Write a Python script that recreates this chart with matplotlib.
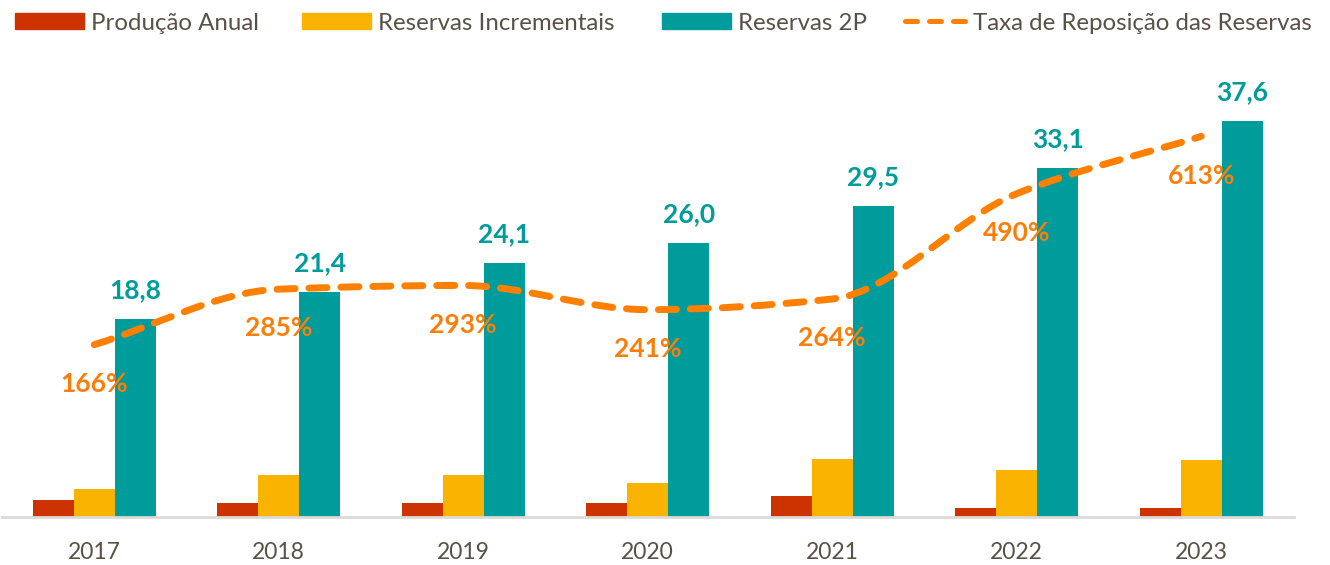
import numpy as np
import matplotlib
matplotlib.use("Agg")
import matplotlib.pyplot as plt
from matplotlib.path import Path
from matplotlib.patches import PathPatch, Patch
from matplotlib.lines import Line2D

plt.rcParams['font.family'] = ['Lato', 'DejaVu Sans']

anos = ['2017', '2018', '2019', '2020', '2021', '2022', '2023']
producao_anual = [1.59, 1.37, 1.33, 1.33, 2.02, 0.85, 0.85]
reservas_incrementais = [2.70, 4.00, 4.00, 3.23, 5.48, 4.46, 5.40]
reservas_2p = [18.8, 21.4, 24.1, 26.0, 29.5, 33.1, 37.6]
taxa_reposicao = [166, 285, 293, 241, 264, 490, 613]

VERMELHO = '#CC3300'
AMARELO = '#FAB300'
VERDE = '#009B9B'
LARANJA = '#FF8000'
TEXTO = '#595146'


def curva_suave(xs, ys):
    # Bezier pelos pontos, com tangentes monotonas (sem overshoot)
    xs = np.asarray(xs, float)
    ys = np.asarray(ys, float)
    n = len(xs)
    d = np.diff(ys) / np.diff(xs)
    m = np.zeros(n)
    m[0], m[-1] = d[0], d[-1]
    for k in range(1, n - 1):
        if d[k - 1] * d[k] > 0:
            m[k] = 2 / (1 / d[k - 1] + 1 / d[k])
    verts = [(xs[0], ys[0])]
    codes = [Path.MOVETO]
    for k in range(n - 1):
        h = (xs[k + 1] - xs[k]) / 3
        verts += [(xs[k] + h, ys[k] + m[k] * h),
                  (xs[k + 1] - h, ys[k + 1] - m[k + 1] * h),
                  (xs[k + 1], ys[k + 1])]
        codes += [Path.CURVE4] * 3
    return Path(verts, codes)


fig = plt.figure(figsize=(13.3, 5.65), dpi=100)
ax = fig.add_axes([2 / 1330, 1 - 517 / 565, 1291.5 / 1330, 457 / 565])
ax2 = ax.twinx()

x = np.arange(len(anos))
w = 0.222

ax.bar(x - w, producao_anual, w, color=VERMELHO)
ax.bar(x, reservas_incrementais, w, color=AMARELO)
ax.bar(x + w, reservas_2p, w, color=VERDE)

for xi, v in zip(x, reservas_2p):
    ax.annotate(f"{v:.1f}".replace('.', ','), (xi + w, v), xytext=(0, 15),
                textcoords='offset points', ha='center', va='baseline',
                fontsize=19, fontweight='bold', color=VERDE)

ax.set_xlim(-0.5, len(anos) - 0.5)
ax.set_ylim(0, 457 / 10.53)
ax.set_yticks([])
ax.set_xticks(x, anos)
ax.tick_params(axis='x', length=0, pad=18, labelsize=16.5, labelcolor=TEXTO)
for s in ['top', 'left', 'right']:
    ax.spines[s].set_visible(False)
ax.spines['bottom'].set_color('#DDDAD6')
ax.spines['bottom'].set_linewidth(2)

# taxa de reposição no eixo secundário (oculto)
ax2.add_patch(PathPatch(curva_suave(x, taxa_reposicao), fill=False,
                        edgecolor=LARANJA, linewidth=5,
                        linestyle=(0, (2.6, 2.0)), capstyle='round',
                        joinstyle='round'))
for xi, v in zip(x, taxa_reposicao):
    ax2.annotate(f"{v}%", (xi, v), xytext=(0, -34), textcoords='offset points',
                 ha='center', va='baseline', fontsize=19, fontweight='bold',
                 color='#FA7F0A')
ax2.set_ylim((422 - 517) / 0.466, (422 - 60) / 0.466)
ax2.set_yticks([])
for s in ax2.spines.values():
    s.set_visible(False)

# legenda: uma entrada por vez, cada uma na sua posição
entradas = [
    (Patch(color=VERMELHO), 'Produção Anual', 15, 2.88),
    (Patch(color=AMARELO), 'Reservas Incrementais', 302, 2.88),
    (Patch(color=VERDE), 'Reservas 2P', 662, 2.88),
    (Line2D([], [], color=LARANJA, linewidth=3.6, dashes=(2.4, 2.4),
            dash_capstyle='round'), 'Taxa de Reposição das Reservas', 905, 2.55),
]
for handle, texto, x0, comprimento in entradas:
    fig.legend([handle], [texto], loc='center left',
               bbox_to_anchor=(x0 / 1330, 1 - 23 / 565),
               frameon=False, fontsize=17.3, labelcolor=TEXTO,
               handlelength=comprimento, handleheight=0.64, handletextpad=0.3,
               borderpad=0, borderaxespad=0)

fig.savefig('out.png', dpi=100)
